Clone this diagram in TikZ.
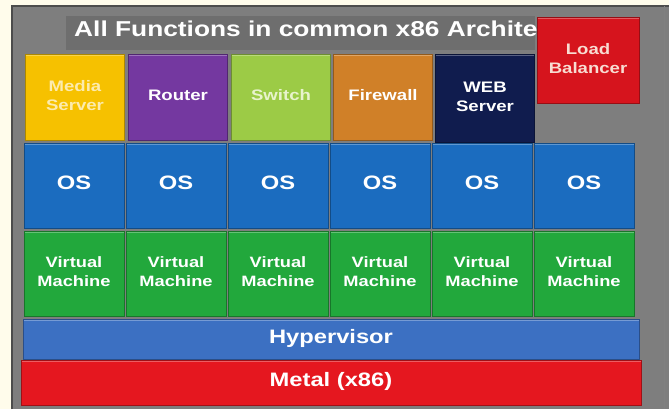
\documentclass[tikz,border=0pt]{standalone}
\usepackage{fontspec}
\setmainfont{Liberation Sans}
\usepackage{graphicx}

\definecolor{cream}{HTML}{FFFCEB}
\definecolor{panel}{HTML}{7E7E7E}
\definecolor{band}{HTML}{6E6E6E}
\definecolor{media}{HTML}{F6C100}
\definecolor{mediatxt}{HTML}{FCEBAE}
\definecolor{router}{HTML}{7438A0}
\definecolor{switch}{HTML}{9CCB46}
\definecolor{switchtxt}{HTML}{E8F3CC}
\definecolor{firewall}{HTML}{D08028}
\definecolor{web}{HTML}{101C4E}
\definecolor{balancer}{HTML}{D6141D}
\definecolor{balancertxt}{HTML}{F8DCD2}
\definecolor{osblue}{HTML}{1B6CBF}
\definecolor{vmgreen}{HTML}{22A83C}
\definecolor{hyper}{HTML}{3C70C2}
\definecolor{metal}{HTML}{E5171F}

% the labels are set a little wider than the font
\newcommand\wide[1]{\scalebox{1.22}[1]{\begin{tabular}{@{}c@{}}#1\end{tabular}}}

\tikzset{
  block/.style={draw=#1!70!black, fill=#1, line width=0.6pt, inner sep=0pt, text=white,
    path picture={\fill[white, opacity=.3] (path picture bounding box.north west)
      rectangle ([yshift=-1.5pt]path picture bounding box.north east);}},
  tile/.style={minimum width=2.97cm, minimum height=2.58cm,
    font=\bfseries\fontsize{13}{17}\selectfont},
  layer/.style={minimum height=2.55cm, minimum width=3cm},
}

\begin{document}
\begin{tikzpicture}[x=0.03cm, y=-0.03cm]
  \useasboundingbox (0,0) rectangle (669,409);
  \fill[cream] (0,0) rectangle (669,409);

  % grey panel
  \fill[panel] (11,5) rectangle (669,409);
  \draw[black!70, line width=1.2pt] (12,409) -- (12,6) -- (669,6);
  \draw[black!50, line width=0.8pt] (664,6) -- (664,409);

  % title band
  \fill[band] (66,16) rectangle (535,50);
  \node[anchor=west, inner sep=0pt, text=white, font=\bfseries\fontsize{18.4}{20}\selectfont]
    (title) at (74,32) {\wide{All Functions in common x86 Archite}};

  % functions
  \node[block=media, tile, text=mediatxt] (media) at (75,97) {\wide{Media\\Server}};
  \node[block=router, tile] (router) at (178,97) {\wide{Router}};
  \node[block=switch, tile, text=switchtxt] (switch) at (281,97) {\wide{Switch}};
  \node[block=firewall, tile] (firewall) at (383,97) {\wide{Firewall}};
  \node[block=web, tile, minimum height=2.64cm] (web) at (485,98) {\wide{WEB\\Server}};
  \node[block=balancer, tile, minimum width=3.06cm, text=balancertxt] (lb) at (588,60) {\wide{Load\\Balancer}};

  % one OS and one VM per function
  \foreach \i in {1,...,6} {
    \node[block=osblue, layer, font=\bfseries\fontsize{16.6}{18}\selectfont]
      (os\i) at ({74+102*(\i-1)},185.5) {\wide{OS}};
    \node[block=vmgreen, layer, font=\bfseries\fontsize{12.8}{16.2}\selectfont]
      (vm\i) at ({74+102*(\i-1)},273.5) {\wide{Virtual\\Machine}};
  }

  \node[block=hyper, minimum width=18.48cm, minimum height=1.2cm,
    font=\bfseries\fontsize{16.6}{18}\selectfont] (hyp) at (331,339) {\wide{Hypervisor}};
  \node[block=metal, minimum width=18.6cm, minimum height=1.35cm,
    font=\bfseries\fontsize{16.6}{18}\selectfont] (metal) at (331,382.5) {\wide{Metal (x86)}};
\end{tikzpicture}
\end{document}
